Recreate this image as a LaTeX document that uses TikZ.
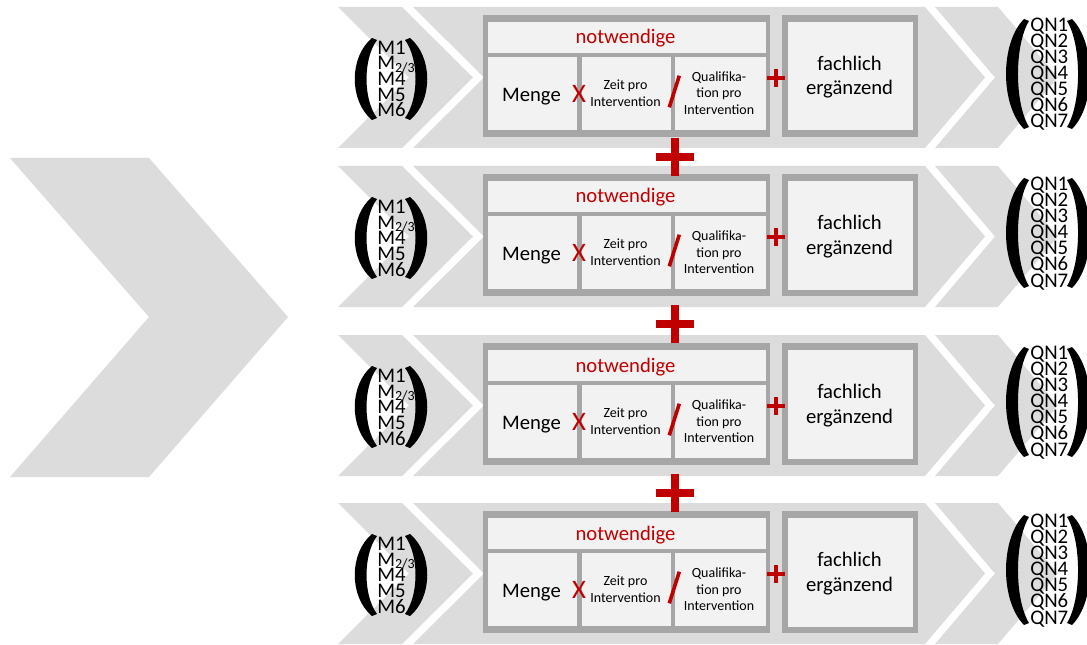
\documentclass[tikz,border=0pt]{standalone}
\usepackage{fontspec}
\setmainfont{Carlito}
\definecolor{chev}{HTML}{DCDCDC}
\definecolor{framec}{HTML}{A6A6A6}
\definecolor{cellc}{HTML}{F2F2F2}
\definecolor{rd}{HTML}{C00000}
\begin{document}
\begin{tikzpicture}[x=0.75pt,y=-0.75pt,
  bigt/.style={inner sep=0pt,anchor=base,font=\fontsize{15.5}{18}\selectfont},
  smallt/.style={inner sep=0pt,anchor=base,font=\fontsize{10.5}{12}\selectfont},
  mt/.style={inner sep=0pt,anchor=base west,font=\fontsize{15.6}{16}\selectfont},
  redx/.style={inner sep=0pt,anchor=base,text=rd,font=\fontsize{20}{22}\selectfont},
  chevf/.style={fill=chev},
  parf/.style={fill=black},
  bigplus/.style={draw=rd,line width=6.4pt},
  smallplus/.style={draw=rd,line width=2.3pt},
  slash/.style={draw=rd,line width=2.7pt}]
\useasboundingbox[fill=white] (0,0) rectangle (1087,645);
% big left chevron
\fill[chevf] (10,158) -- (149,158) -- (288,317) -- (149,477) -- (10,477) -- (149,317) -- cycle;
\foreach \r [count=\i] in {7,166,335,503} {
\begin{scope}[shift={(0,\r)}]
  % chevrons
  \fill[chevf] (338,0) -- (402,0) -- (473,70.5) -- (402,141) -- (338,141) -- (409,70.5) -- cycle;
  \fill[chevf] (413,0) -- (925,0) -- (985,70.5) -- (925,141) -- (413,141) -- (484,70.5) -- cycle;
  \fill[chevf] (935,0) -- (998,0) -- (1058,70.5) -- (998,141) -- (935,141) -- (995,70.5) -- cycle;
  % main frame
  \fill[framec] (483,8) rectangle (770,130);
  \fill[cellc] (488,15) rectangle (766,46);
  \fill[cellc] (488,50) rectangle (577,123);
  \fill[cellc] (582,50) rectangle (671,123);
  \fill[cellc] (675,50) rectangle (766,123);
  % fachlich box
  \fill[framec] (782,8) rectangle (918,130);
  \fill[cellc] (788,15) rectangle (913,123.5);
  % texts
  \node[bigt,text=rd] (notw\i) at (625.5,37) {notwendige};
  \node[bigt] (menge\i) at (531.5,94.7) {Menge};
  \node[smallt] (zeitA\i) at (625.5,82.3) {Zeit pro};
  \node[smallt] (zeitB\i) at (625.5,99.7) {Intervention};
  \node[smallt] (qualA\i) at (719,74.3) {Qualifika-};
  \node[smallt] (qualB\i) at (719,91) {tion pro};
  \node[smallt] (qualC\i) at (719,107.6) {Intervention};
  \node[bigt] (fachA\i) at (849.5,63.7) {fachlich};
  \node[bigt] (fachB\i) at (849.5,88) {ergänzend};
  \node[redx] (times\i) at (579,95.3) {X};
  \draw[slash] (679.3,68.7) -- (669.3,100.3);
  \draw[smallplus] (767,71) -- (785,71) (776,62) -- (776,80);
  % M vector
  \fill[parf] (372,31) .. controls (349,50) and (349,94) .. (372,113) -- (377,111) .. controls (363,92) and (363,52) .. (377,33) -- cycle;
  \fill[parf] (410,31) .. controls (433,50) and (433,94) .. (410,113) -- (405,111) .. controls (419,92) and (419,52) .. (405,33) -- cycle;
  \node[mt] (mA\i) at (377,47.4) {M1};
  \node[mt] (mB\i) at (377,63) {M\raisebox{-2pt}{\fontsize{10.5}{12}\selectfont 2/3}};
  \node[mt] (mC\i) at (377,78.7) {M4};
  \node[mt] (mD\i) at (377,94.3) {M5};
  \node[mt] (mE\i) at (377,110) {M6};
  % QN vector
  \fill[parf] (1024,12) .. controls (1000,36) and (1000,98) .. (1024,122) -- (1029,120) .. controls (1014.3,96) and (1014.3,38) .. (1029,14) -- cycle;
  \fill[parf] (1072,12) .. controls (1096,36) and (1096,98) .. (1072,122) -- (1067,120) .. controls (1081.7,96) and (1081.7,38) .. (1067,14) -- cycle;
  \foreach \k in {1,...,7} {
    \node[mt] (qn\i-\k) at (1030,{24.4+(\k-1)*16.1}) {QN\k};
  }
\end{scope}
}
% big plus signs between rows
\foreach \yy [count=\j] in {157,324,493} {
  \coordinate (pc\j) at (675,\yy);
  \draw[bigplus] ([xshift=-13.9pt]pc\j) -- ([xshift=13.9pt]pc\j);
  \draw[bigplus] ([yshift=14.2pt]pc\j) -- ([yshift=-14.2pt]pc\j);
}
\end{tikzpicture}
\end{document}
